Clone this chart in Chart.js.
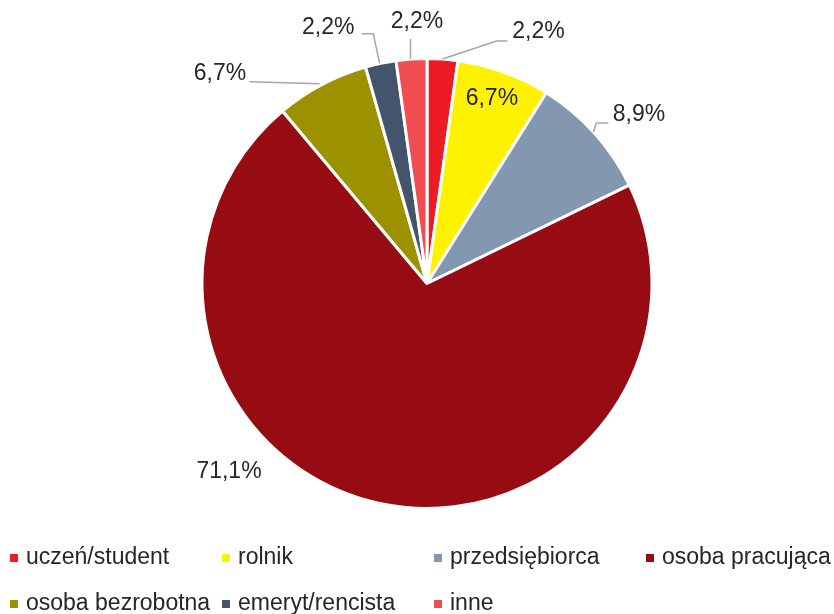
<!DOCTYPE html>
<html>
<head>
<meta charset="utf-8">
<script src="https://cdn.jsdelivr.net/npm/chart.js@4"></script>
<style>
  body { margin: 0; background: #fff; }
  #wrap { width: 834px; height: 614px; }
</style>
</head>
<body>
<div id="wrap"><canvas id="pie" width="834" height="614"></canvas></div>
<script>
// dane
const categories = ['uczeń/student', 'rolnik', 'przedsiębiorca', 'osoba pracująca', 'osoba bezrobotna', 'emeryt/rencista', 'inne'];
const shares = [2.2, 6.7, 8.9, 71.1, 6.7, 2.2, 2.2];
const sliceColors = ['#ED1C24', '#FFF200', '#8497B0', '#960C12', '#9C9200', '#44546A', '#F04C52'];

const FONT = '23px "Liberation Sans", Arial, sans-serif';
const TEXT_COLOR = '#262626';
const LEADER_COLOR = '#A6A6A6';

// polozenie etykiet wzgledem krawedzi wycinka (srodek kata)
const labelLayout = [
    { text: [96, -27.5], leader: [[0, 0], [54, -18], [65, -18]] },
    { text: [-12, 27], leader: null },
    { text: [44.6, -18.6], leader: [[-1, -1], [2, -10], [14, -10]] },
    { text: [-151, -32], leader: null },
    { text: [-101.7, -10.7], leader: [[-2, -1], [-72, -3]] },
    { text: [-52.4, -35.8], leader: [[-1, 0], [-7.4, -29.5], [-19, -29.5]] },
    { text: [5.5, -37.5], leader: [[-1, 0], [-1, -20]] }
];

// legenda: 4 kolumny
const legendCols = [10, 222, 434, 646];
const legendRows = [558, 604];

function fmt(v) {
    return v.toFixed(1).replace('.', ',') + '%';
}

const labelPlugin = {
    id: 'pieLabels',
    afterDatasetsDraw(chart) {
        const ctx = chart.ctx;
        const meta = chart.getDatasetMeta(0);
        ctx.save();
        ctx.font = FONT;
        ctx.textAlign = 'center';
        ctx.textBaseline = 'middle';
        meta.data.forEach((arc, i) => {
            const p = arc.getProps(['x', 'y', 'startAngle', 'endAngle', 'outerRadius'], true);
            const mid = (p.startAngle + p.endAngle) / 2;
            const ex = p.x + Math.cos(mid) * p.outerRadius;
            const ey = p.y + Math.sin(mid) * p.outerRadius;
            const lay = labelLayout[i];
            if (lay.leader) {
                ctx.strokeStyle = LEADER_COLOR;
                ctx.lineWidth = 1.5;
                ctx.beginPath();
                lay.leader.forEach((pt, k) => {
                    if (k === 0) ctx.moveTo(ex + pt[0], ey + pt[1]);
                    else ctx.lineTo(ex + pt[0], ey + pt[1]);
                });
                ctx.stroke();
            }
            ctx.fillStyle = TEXT_COLOR;
            ctx.fillText(fmt(chart.data.datasets[0].data[i]), ex + lay.text[0], ey + lay.text[1]);
        });
        ctx.restore();
    },
    afterDraw(chart) {
        const ctx = chart.ctx;
        const labels = chart.data.labels;
        const colors = chart.data.datasets[0].backgroundColor;
        ctx.save();
        ctx.font = FONT;
        ctx.textAlign = 'left';
        ctx.textBaseline = 'middle';
        labels.forEach((lbl, i) => {
            const x = legendCols[i % legendCols.length];
            const y = legendRows[Math.floor(i / legendCols.length)];
            ctx.fillStyle = colors[i];
            ctx.fillRect(x, y - 4, 8, 8);
            ctx.fillStyle = TEXT_COLOR;
            ctx.fillText(lbl, x + 16, y);
        });
        ctx.restore();
    }
};

new Chart(document.getElementById('pie').getContext('2d'), {
    type: 'pie',
    data: {
        labels: categories,
        datasets: [{
            data: shares,
            backgroundColor: sliceColors,
            borderColor: '#ffffff',
            borderWidth: 3
        }]
    },
    options: {
        responsive: false,
        animation: false,
        layout: { padding: { top: 57, bottom: 104, left: 20, right: 0 } },
        plugins: {
            legend: { display: false },
            tooltip: { enabled: false }
        }
    },
    plugins: [labelPlugin]
});
</script>
</body>
</html>
